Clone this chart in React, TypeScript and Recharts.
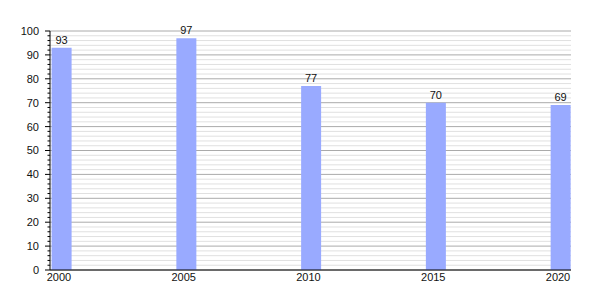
import React from "react";
import { BarChart, Bar, XAxis, YAxis, CartesianGrid, LabelList } from "recharts";

const years = [2000, 2005, 2010, 2015, 2020];
const values = [93, 97, 77, 70, 69];
const yTicks = [0, 2, 4, 6, 8, 10, 12, 14, 16, 18, 20, 22, 24, 26, 28, 30, 32, 34, 36, 38, 40, 42, 44, 46, 48, 50, 52, 54, 56, 58, 60, 62, 64, 66, 68, 70, 72, 74, 76, 78, 80, 82, 84, 86, 88, 90, 92, 94, 96, 98, 100];

const data = years.map((y, i) => ({ year: y, value: values[i] }));

const FONT = "'Liberation Sans', Arial, sans-serif";

const YTick = (props: any) => {
  const { x, y, payload } = props;
  const v = payload.value as number;
  const major = v % 10 === 0;
  return (
    <g>
      <line x1={x - (major ? 5 : 2.5)} x2={x} y1={y} y2={y} stroke="#000" strokeWidth={1} />
      {major && (
        <text x={x - 11} y={y} dy="0.355em" textAnchor="end" fontSize={11} fontFamily={FONT} fill="#111">
          {v}
        </text>
      )}
    </g>
  );
};

const XTick = (props: any) => {
  const { x, y, payload } = props;
  return (
    <text x={x - 3} y={y + 11} textAnchor="middle" fontSize={11} fontFamily={FONT} fill="#111">
      {payload.value}
    </text>
  );
};

const GridLine = (props: any) => {
  const { x1, x2, y1, y2, index } = props;
  const major = index % 5 === 0;
  return (
    <line
      x1={x1}
      x2={x2}
      y1={y1}
      y2={y2}
      stroke={major ? "#aaaaaa" : "#e0e0e0"}
      strokeWidth={1}
    />
  );
};

export default function App() {
  return (
    <BarChart
      width={592}
      height={292}
      data={data}
      margin={{ top: 23, right: 29, bottom: 10, left: 0 }}
    >
      <CartesianGrid vertical={false} horizontal={(p: any) => <GridLine key={p.key} {...p} />} />
      <XAxis
        dataKey="year"
        type="number"
        domain={[1999.52, 2020.4]}
        ticks={years}
        tickLine={false}
        tickSize={0}
        tickMargin={0}
        tick={<XTick />}
        axisLine={{ stroke: "#000" }}
        height={20}
        allowDataOverflow
      />
      <YAxis
        domain={[0, 100]}
        ticks={yTicks}
        interval={0}
        tickLine={false}
        tickSize={0}
        tickMargin={0}
        tick={<YTick />}
        axisLine={{ stroke: "#000" }}
        width={42}
      />
      <Bar dataKey="value" fill="#99aaff" barSize={20} isAnimationActive={false}>
        <LabelList dataKey="value" position="top" offset={4} fontSize={11} fontFamily={FONT} fill="#111" />
      </Bar>
    </BarChart>
  );
}
